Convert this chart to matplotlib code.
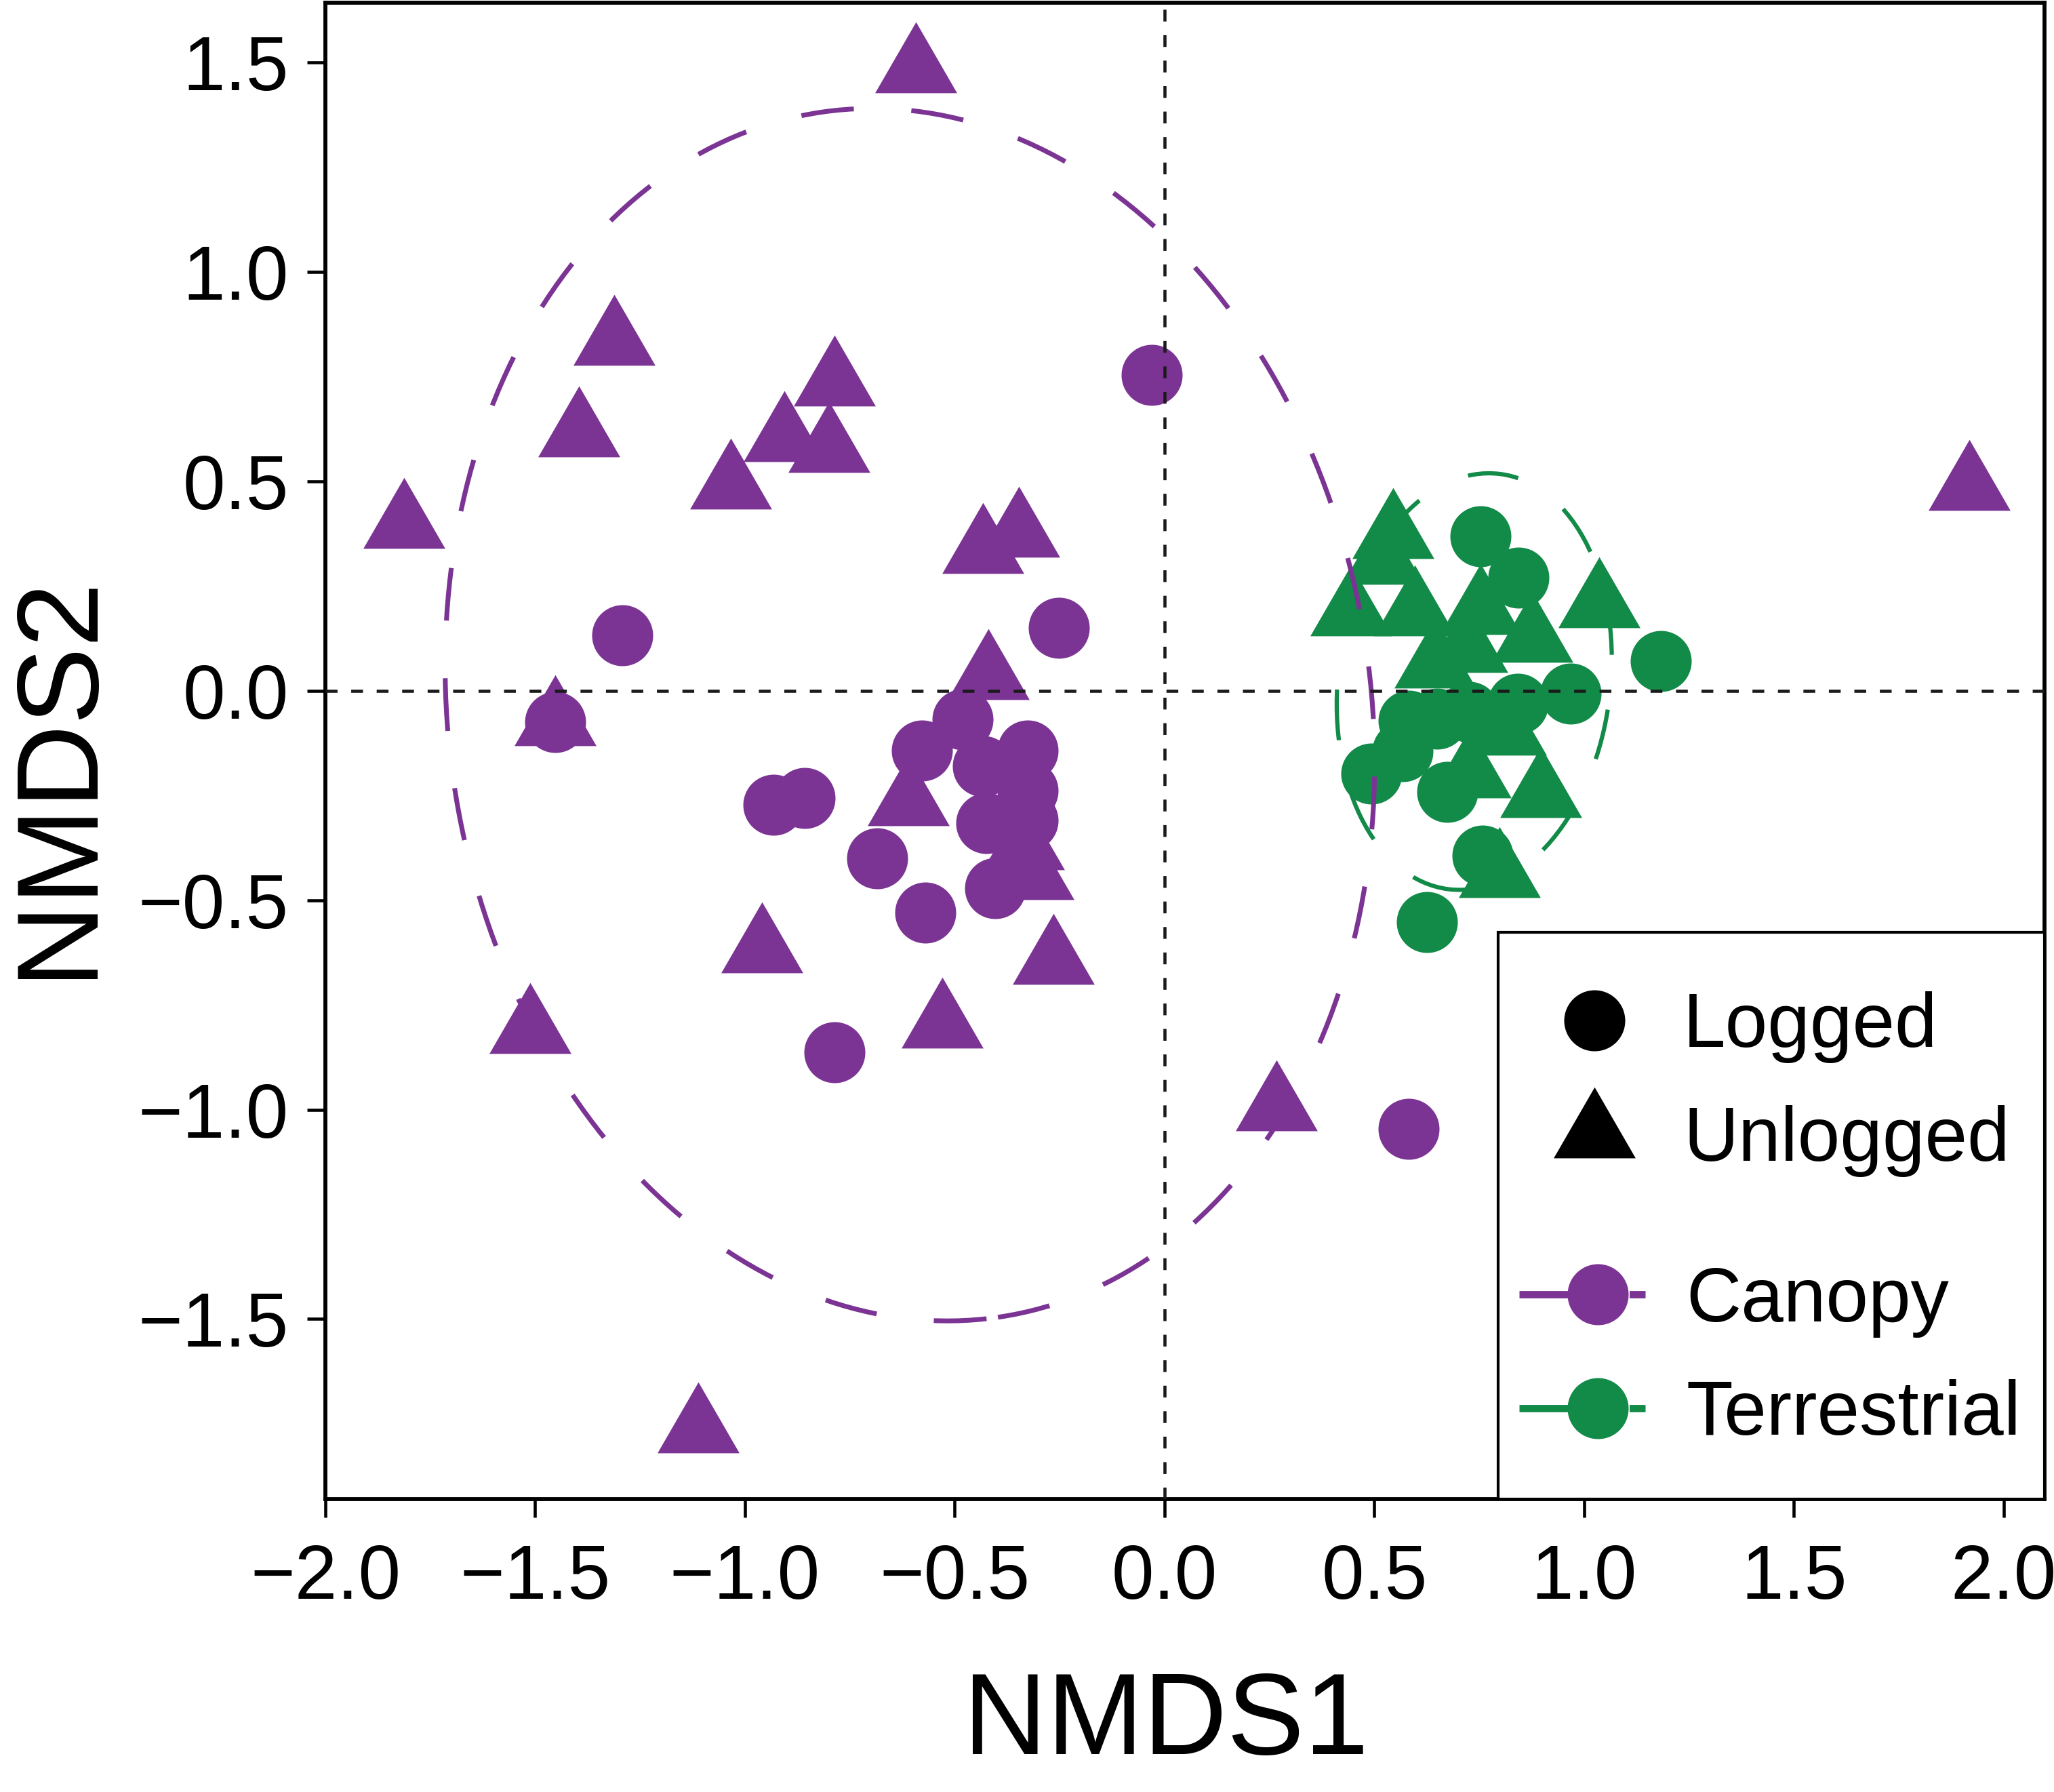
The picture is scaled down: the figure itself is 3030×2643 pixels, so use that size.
import numpy as np
import matplotlib
matplotlib.use("Agg")
import matplotlib.pyplot as plt
from matplotlib.path import Path
from matplotlib.patches import Ellipse, Rectangle
from matplotlib.lines import Line2D
from matplotlib.legend_handler import HandlerLine2D

plt.rcParams['font.family'] = ['Liberation Sans', 'DejaVu Sans']

# DATA ----------------------------------------------------------------------------
# canopy, logged sites (circles)
canopy_logged_x = [-0.031, -1.293, -0.252, -1.453, -0.482, -0.578, -0.326, -0.433, -0.326,
                   -0.425, -0.326, -0.403, -0.932, -0.857, -0.685, -0.571, -0.786, 0.581]
canopy_logged_y = [0.755, 0.132, 0.151, -0.074, -0.068, -0.142, -0.142, -0.180, -0.239,
                   -0.316, -0.310, -0.471, -0.273, -0.256, -0.400, -0.530, -0.863, -1.046]

# canopy, unlogged sites (triangles)
canopy_unlogged_x = [-0.593, -1.311, -1.395, -0.786, -0.906, -0.799, -1.034, -1.812, -0.433,
                     -0.347, -0.420, -1.453, -0.611, -0.336, -0.313, -0.959, -0.265, -1.512,
                     -0.530, 0.267, -1.112, 1.917]
canopy_unlogged_y = [1.485, 0.834, 0.615, 0.737, 0.603, 0.578, 0.491, 0.396, 0.337,
                     0.375, 0.035, -0.074, -0.265, -0.371, -0.443, -0.617, -0.645, -0.810,
                     -0.797, -0.994, -1.764, 0.487]

# terrestrial, logged
terr_logged_x = [0.753, 0.844, 0.968, 1.183, 0.582, 0.567, 0.493, 0.674, 0.757, 0.626,
                 0.841, 0.725, 0.650]
terr_logged_y = [0.369, 0.270, -0.007, 0.071, -0.072, -0.144, -0.198, -0.242, -0.393, -0.553,
                 -0.031, -0.050, -0.066]

# terrestrial, unlogged
terr_unlogged_x = [0.545, 0.445, 0.597, 0.520, 1.036, 0.645, 0.753, 0.876, 0.897, 0.813,
                   0.728, 0.798, 0.720]
terr_unlogged_y = [0.372, 0.188, 0.188, 0.310, 0.207, 0.063, 0.190, 0.125, -0.247, -0.097,
                   -0.200, -0.437, 0.100]

# ellipses: centre x, centre y, width, height, angle
canopy_ellipse = [-0.607, -0.057, 2.198, 2.908, 8.3]
terr_ellipse = [0.738, 0.022, 0.649, 0.999, -7.0]

x_ticks = [-2.0, -1.5, -1.0, -0.5, 0.0, 0.5, 1.0, 1.5, 2.0]
y_ticks = [-1.5, -1.0, -0.5, 0.0, 0.5, 1.0, 1.5]

PURPLE = '#7B3494'
GREEN = '#128A48'
FS = 27

# equilateral triangle marker (centroid at origin)
tri = Path([(0, 1), (-0.866, -0.5), (0.866, -0.5), (0, 1)],
           [Path.MOVETO, Path.LINETO, Path.LINETO, Path.CLOSEPOLY])
CIRC_MS = 21.6
TRI_MS = 33.5


class OffsetMarkerHandler(HandlerLine2D):
    # legend line with the point drawn a bit right of centre
    def create_artists(self, legend, orig_handle, xdescent, ydescent, width, height, fontsize, trans):
        x0 = -xdescent
        y = (height - ydescent) / 2
        legline = Line2D([x0, x0 + width], [y, y])
        self.update_prop(legline, orig_handle, legend)
        legline.set_marker('None')
        legline.set_transform(trans)
        legmark = Line2D([x0 + 0.625 * width], [y])
        self.update_prop(legmark, orig_handle, legend)
        legmark.set_linestyle('None')
        legmark.set_transform(trans)
        return [legline, legmark]


# PLOT ----------------------------------------------------------------------------
fig = plt.figure(figsize=(10.1, 8.81), dpi=300)
ax = fig.add_axes([0.1584, 0.16345, 0.99538 - 0.1584, 0.99849 - 0.16345])

ax.add_patch(Ellipse(terr_ellipse[:2], terr_ellipse[2], terr_ellipse[3], angle=terr_ellipse[4],
                     fill=False, edgecolor=GREEN, lw=1.5, ls=(0, (12, 13)), zorder=1.5))

ax.scatter(canopy_logged_x, canopy_logged_y, s=CIRC_MS**2, marker='o', color=PURPLE, linewidths=0, zorder=2)
ax.scatter(canopy_unlogged_x, canopy_unlogged_y, s=TRI_MS**2, marker=tri, color=PURPLE, linewidths=0, zorder=2)
ax.scatter(terr_logged_x, terr_logged_y, s=CIRC_MS**2, marker='o', color=GREEN, linewidths=0, zorder=2)
ax.scatter(terr_unlogged_x, terr_unlogged_y, s=TRI_MS**2, marker=tri, color=GREEN, linewidths=0, zorder=2)

ax.add_patch(Ellipse(canopy_ellipse[:2], canopy_ellipse[2], canopy_ellipse[3], angle=canopy_ellipse[4],
                     fill=False, edgecolor=PURPLE, lw=1.7, ls=(0, (11, 12)), zorder=3))

ax.axhline(0, color='#1a1a1a', lw=1.1, ls=(0, (3.8, 4.4)), zorder=3.5)
ax.axvline(0, color='#1a1a1a', lw=1.1, ls=(0, (3.8, 4.4)), zorder=3.5)

ax.set_xlim(-2.0, 2.097)
ax.set_ylim(-1.93, 1.643)
ax.set_xticks(x_ticks)
ax.set_yticks(y_ticks)
ax.tick_params(axis='both', labelsize=FS, length=6.5, width=1.1, direction='out', pad=6.5)
ax.tick_params(axis='x', pad=9)
for s in ax.spines.values():
    s.set_linewidth(1.4)

ax.set_xlabel('NMDS1', fontsize=41)
ax.set_ylabel('NMDS2', fontsize=41)
ax.xaxis.set_label_coords(0.489, -0.150)
ax.yaxis.set_label_coords(-0.155, 0.4835)
ax.xaxis.label.set_va('center')
ax.yaxis.label.set_va('center')

# legend box
ax.add_patch(Rectangle((0.6822, 0.0), 0.3178, 0.3788, transform=ax.transAxes,
                       facecolor='white', edgecolor='black', lw=1.0, zorder=4))

shape_handles = [Line2D([], [], ls='none', marker='o', ms=CIRC_MS, color='black', mew=0),
                 Line2D([], [], ls='none', marker=tri, ms=TRI_MS, color='black', mew=0)]
leg1 = ax.legend(shape_handles, ['Logged', 'Unlogged'], loc='center left',
                 bbox_to_anchor=(0.7106, 0.2773), frameon=False, fontsize=FS,
                 handlelength=1.245, handletextpad=0.54, labelspacing=0.55,
                 borderpad=0, borderaxespad=0)
leg1.set_zorder(5)
ax.add_artist(leg1)

habitat_handles = [Line2D([], [], color=PURPLE, lw=2.6, ls=(0, (7.2, 7.8)), marker='o', ms=CIRC_MS, mew=0),
                   Line2D([], [], color=GREEN, lw=2.6, ls=(0, (7.2, 7.8)), marker='o', ms=CIRC_MS, mew=0)]
leg2 = ax.legend(habitat_handles, ['Canopy', 'Terrestrial'], loc='center left',
                 bbox_to_anchor=(0.6944, 0.094), frameon=False, fontsize=FS,
                 handlelength=1.65, handletextpad=0.54, labelspacing=0.55,
                 borderpad=0, borderaxespad=0,
                 handler_map={Line2D: OffsetMarkerHandler()})
leg2.set_zorder(5)

fig.savefig('out.png', dpi=300)
